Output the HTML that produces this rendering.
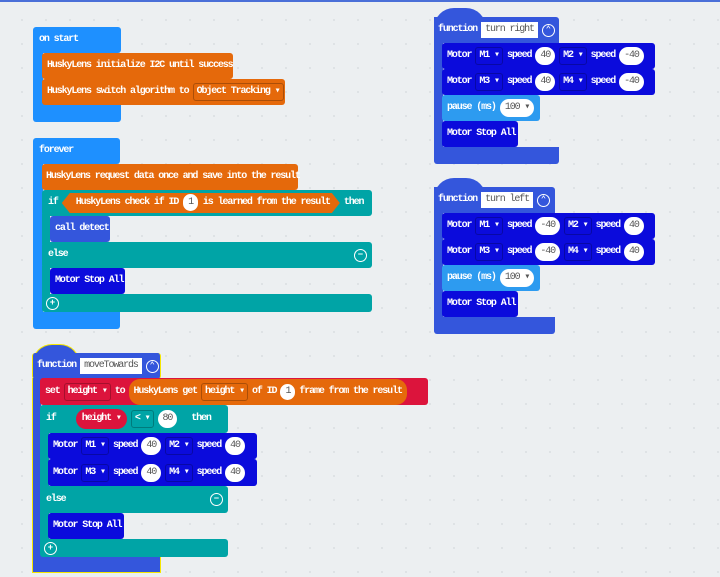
<!DOCTYPE html>
<html><head><meta charset="utf-8"><style>
body{margin:0;width:720px;height:577px;overflow:hidden;background:#eceff1;
background-image:radial-gradient(circle,#dde1e4 1px,transparent 1.3px);background-size:24px 24px;background-position:10px 8px;position:relative;}
.top{position:absolute;left:0;top:0;width:720px;height:2px;background:#4a6fd8}
.r{position:absolute;}
.b{position:absolute;display:flex;align-items:center;padding-left:6px;gap:4px;color:#fff;font:bold 10px/1 "Liberation Mono",monospace;letter-spacing:-1.12px;white-space:nowrap;box-sizing:border-box;border-radius:3px}
.p{background:#fff;color:#555;border-radius:9px;padding:4px 5px;font-weight:normal}
.d{border:1px solid rgba(0,0,0,.25);border-radius:3px;padding:3px 3px}
.i{background:#fff;color:#555;padding:3px 4px;font-weight:normal}
.c{width:13px;height:13px;border:1.5px solid #fff;border-radius:50%;box-sizing:border-box;display:inline-flex;align-items:center;justify-content:center;font-size:9px;letter-spacing:0}
.ev{background:#1e90ff}.or{background:#e5690b}.tl{background:#00a4a6}.fn{background:#3456dc}.mo{background:#0b0bdc}.rd{background:#dc143c}.lb{background:#2d9bf0}
</style></head><body>
<div class="top"></div>

<!-- on start -->
<div class="b ev" style="left:33px;top:27px;width:88px;height:26px">on start</div>
<div class="r ev" style="left:33px;top:50px;width:10px;height:60px"></div>
<div class="r ev" style="left:33px;top:104px;width:88px;height:18px;border-radius:0 0 3px 3px"></div>
<div class="b or" style="left:42px;top:53px;width:191px;height:26px;padding-left:5px">HuskyLens initialize I2C until success</div>
<div class="b or" style="left:42px;top:79px;width:243px;height:26px;padding-left:5px">HuskyLens switch algorithm to <span class="d">Object Tracking ▾</span></div>

<!-- forever -->
<div class="b ev" style="left:33px;top:138px;width:87px;height:26px">forever</div>
<div class="r ev" style="left:33px;top:160px;width:10px;height:160px"></div>
<div class="r ev" style="left:33px;top:312px;width:87px;height:17px;border-radius:0 0 3px 3px"></div>
<div class="b or" style="left:42px;top:164px;width:256px;height:26px;padding-left:4px">HuskyLens request data once and save into the result</div>
<div class="b tl" style="left:42px;top:190px;width:330px;height:26px;gap:4px">if <span class="or" style="padding:5px 10px 5px 14px;clip-path:polygon(8px 0,calc(100% - 8px) 0,100% 50%,calc(100% - 8px) 100%,8px 100%,0 50%)">HuskyLens check if ID <span class="p" style="padding:3px 5px">1</span> is learned from the result</span>then</div>
<div class="r tl" style="left:42px;top:214px;width:8px;height:30px"></div>
<div class="b fn" style="left:50px;top:216px;width:60px;height:26px;padding-left:5px">call detect</div>
<div class="b tl" style="left:42px;top:242px;width:330px;height:26px">else<span class="c" style="position:absolute;right:5px">−</span></div>
<div class="r tl" style="left:42px;top:266px;width:8px;height:30px"></div>
<div class="b mo" style="left:50px;top:268px;width:75px;height:26px;padding-left:5px">Motor Stop All</div>
<div class="b tl" style="left:42px;top:294px;width:330px;height:18px;padding-left:4px"><span class="c">+</span></div>

<!-- moveTowards -->
<div class="r fn" style="left:32px;top:344px;width:48px;height:20px;border-radius:24px 24px 0 0;border:1.5px solid #f5e600;border-bottom:none;box-sizing:border-box"></div>
<div class="b fn" style="left:32px;top:353px;width:129px;height:26px;border:1.5px solid #f5e600;border-top:none;border-bottom:none;padding-left:4px">function <span class="i">moveTowards</span><span class="c">⌃</span></div>
<div class="r fn" style="left:32px;top:378px;width:9px;height:180px;border-left:1.5px solid #f5e600;box-sizing:border-box"></div>
<div class="r fn" style="left:32px;top:556px;width:129px;height:17px;border:1.5px solid #f5e600;border-top:none;box-sizing:border-box"></div>
<div class="b rd" style="left:40px;top:378px;width:388px;height:27px;gap:4px;padding-left:5px">set <span class="d">height ▾</span> to <span class="or" style="padding:4px 5px;border-radius:11px;display:flex;align-items:center;gap:4px">HuskyLens get <span class="d">height ▾</span> of ID <span class="p" style="padding:3px 5px">1</span> frame from the result</span></div>
<div class="b tl" style="left:40px;top:405px;width:188px;height:28px;gap:4px">if <span style="width:12px"></span><span class="rd" style="padding:5px 6px;border-radius:10px">height ▾</span><span class="d">&lt; ▾</span><span class="p">80</span><span style="width:6px"></span>then</div>
<div class="r tl" style="left:40px;top:431px;width:9px;height:58px"></div>
<div class="b mo" style="left:48px;top:433px;width:209px;height:26px;padding-left:5px">Motor <span class="d">M1 ▾</span> speed <span class="p">40</span> <span class="d">M2 ▾</span> speed <span class="p">40</span></div>
<div class="b mo" style="left:48px;top:459px;width:209px;height:27px;padding-left:5px">Motor <span class="d">M3 ▾</span> speed <span class="p">40</span> <span class="d">M4 ▾</span> speed <span class="p">40</span></div>
<div class="b tl" style="left:40px;top:486px;width:188px;height:27px">else<span class="c" style="position:absolute;right:5px">−</span></div>
<div class="r tl" style="left:40px;top:511px;width:9px;height:30px"></div>
<div class="b mo" style="left:48px;top:513px;width:76px;height:26px;padding-left:5px">Motor Stop All</div>
<div class="b tl" style="left:40px;top:539px;width:188px;height:18px;padding-left:4px"><span class="c">+</span></div>

<!-- turn right -->
<div class="r fn" style="left:434px;top:8px;width:52px;height:20px;border-radius:26px 26px 0 0"></div>
<div class="b fn" style="left:434px;top:17px;width:125px;height:26px;border-radius:0 3px 0 0;padding-left:4px">function <span class="i">turn right</span><span class="c">⌃</span></div>
<div class="r fn" style="left:434px;top:40px;width:9px;height:110px"></div>
<div class="r fn" style="left:434px;top:147px;width:125px;height:17px;border-radius:0 0 3px 3px"></div>
<div class="b mo" style="left:442px;top:43px;width:213px;height:26px;padding-left:5px">Motor <span class="d">M1 ▾</span> speed <span class="p">40</span> <span class="d">M2 ▾</span> speed <span class="p">-40</span></div>
<div class="b mo" style="left:442px;top:69px;width:213px;height:26px;padding-left:5px">Motor <span class="d">M3 ▾</span> speed <span class="p">40</span> <span class="d">M4 ▾</span> speed <span class="p">-40</span></div>
<div class="b lb" style="left:442px;top:95px;width:98px;height:26px;padding-left:5px">pause (ms) <span class="p">100 ▾</span></div>
<div class="b mo" style="left:442px;top:121px;width:76px;height:26px;padding-left:5px">Motor Stop All</div>

<!-- turn left -->
<div class="r fn" style="left:434px;top:178px;width:52px;height:20px;border-radius:26px 26px 0 0"></div>
<div class="b fn" style="left:434px;top:187px;width:121px;height:26px;border-radius:0 3px 0 0;padding-left:4px">function <span class="i">turn left</span><span class="c">⌃</span></div>
<div class="r fn" style="left:434px;top:210px;width:9px;height:110px"></div>
<div class="r fn" style="left:434px;top:317px;width:121px;height:17px;border-radius:0 0 3px 3px"></div>
<div class="b mo" style="left:442px;top:213px;width:213px;height:26px;padding-left:5px">Motor <span class="d">M1 ▾</span> speed <span class="p">-40</span> <span class="d">M2 ▾</span> speed <span class="p">40</span></div>
<div class="b mo" style="left:442px;top:239px;width:213px;height:26px;padding-left:5px">Motor <span class="d">M3 ▾</span> speed <span class="p">-40</span> <span class="d">M4 ▾</span> speed <span class="p">40</span></div>
<div class="b lb" style="left:442px;top:265px;width:98px;height:26px;padding-left:5px">pause (ms) <span class="p">100 ▾</span></div>
<div class="b mo" style="left:442px;top:291px;width:76px;height:26px;padding-left:5px">Motor Stop All</div>
</body></html>
